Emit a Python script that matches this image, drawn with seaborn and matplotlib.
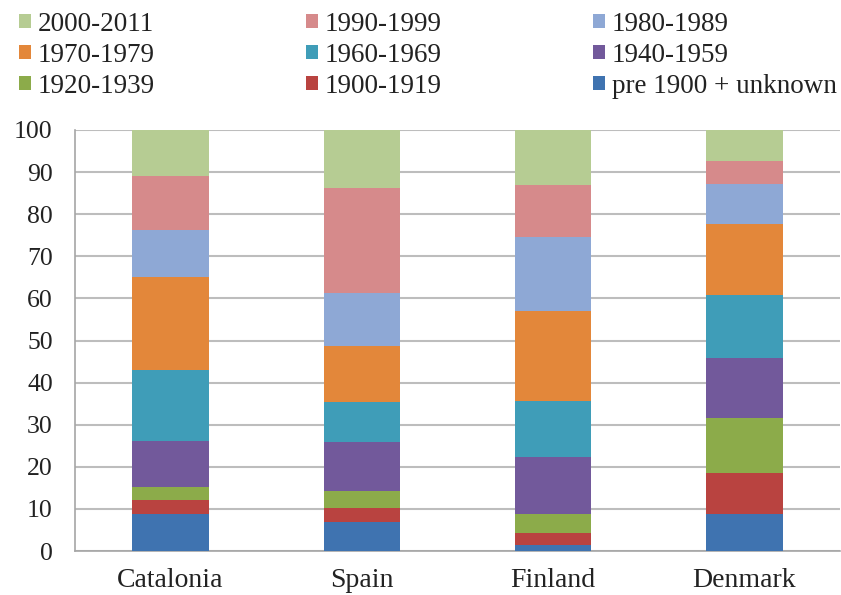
import numpy as np
import pandas as pd
import matplotlib
matplotlib.use("Agg")
import matplotlib.pyplot as plt
from matplotlib.patches import Patch
import seaborn as sns

# Share of dwellings by construction period (%)
countries = ["Catalonia", "Spain", "Finland", "Denmark"]
periods = ["pre 1900 + unknown", "1900-1919", "1920-1939", "1940-1959",
           "1960-1969", "1970-1979", "1980-1989", "1990-1999", "2000-2011"]
pre1900 = [8.7, 6.9, 1.4, 8.7]
p1900_1919 = [3.4, 3.4, 2.8, 9.8]
p1920_1939 = [3.2, 4.0, 4.7, 13.2]
p1940_1959 = [10.9, 11.7, 13.5, 14.1]
p1960_1969 = [16.7, 9.3, 13.3, 14.9]
p1970_1979 = [22.2, 13.3, 21.2, 16.9]
p1980_1989 = [11.1, 12.7, 17.7, 9.5]
p1990_1999 = [12.8, 25.0, 12.3, 5.6]
p2000_2011 = [11.0, 13.7, 13.1, 7.3]
yticks = [0, 10, 20, 30, 40, 50, 60, 70, 80, 90, 100]

colors = ["#3F73B0", "#B94340", "#8CAB4A", "#72599B", "#3F9DB8",
          "#E3873A", "#8EA8D5", "#D68A8B", "#B6CC93"]

series = [pre1900, p1900_1919, p1920_1939, p1940_1959, p1960_1969,
          p1970_1979, p1980_1989, p1990_1999, p2000_2011]
df = pd.DataFrame(np.array(series).T, columns=periods)
df.insert(0, "country", countries)
cum = df[periods].cumsum(axis=1)
cum.insert(0, "country", countries)

sns.set_style("white")
plt.rcParams["font.family"] = ["Liberation Serif", "DejaVu Serif"]

fig = plt.figure(figsize=(8.41, 5.95), dpi=100)
ax = fig.add_axes([75 / 841, 1 - 551 / 595, 765 / 841, 421 / 595])

# Stacked bars: draw cumulative totals from the top segment down
for period, col in zip(reversed(periods), reversed(colors)):
    sns.barplot(data=cum, x="country", y=period, order=countries,
                color=col, saturation=1, width=0.4, errorbar=None,
                edgecolor="none", linewidth=0, ax=ax, zorder=3)

ax.set_ylim(0, 100)
ax.set_xlim(-0.5, 3.5)
ax.set_yticks(yticks)
ax.set_yticklabels([str(v) for v in yticks], fontsize=18.5, color="#222222")
ax.set_xlabel("")
ax.set_ylabel("")
ax.tick_params(axis="x", which="major", length=0, labelsize=20,
               labelcolor="#222222", pad=12)
ax.set_xticks([0.5, 1.5, 2.5], minor=True)
ax.tick_params(axis="x", which="minor", length=6, width=1.2, color="#A6A6A6",
               direction="out")
ax.tick_params(axis="y", length=8, width=1.2, color="#A6A6A6", pad=8)

ax.grid(axis="y", color="#BDBDBD", linewidth=1.5, zorder=0)
ax.set_axisbelow(True)
for side in ["top", "right"]:
    ax.spines[side].set_visible(False)
for side in ["left", "bottom"]:
    ax.spines[side].set_color("#A6A6A6")
    ax.spines[side].set_linewidth(1.2)

# Legend laid out row by row, newest period first
rows = [["2000-2011", "1990-1999", "1980-1989"],
        ["1970-1979", "1960-1969", "1940-1959"],
        ["1920-1939", "1900-1919", "pre 1900 + unknown"]]
col_major = [rows[r][c] for c in range(3) for r in range(3)]
color_of = dict(zip(periods, colors))
handles = [Patch(facecolor=color_of[p], edgecolor="none") for p in col_major]
fig.legend(handles, col_major, ncol=3, loc="upper left",
           bbox_to_anchor=(0.0, 1.012), frameon=False, fontsize=19.5,
           handlelength=0.45, handleheight=0.45, handletextpad=0.23,
           columnspacing=5.6, labelspacing=0.22, borderaxespad=0.3,
           labelcolor="#222222")

fig.savefig("out.png", dpi=100, facecolor="white")
